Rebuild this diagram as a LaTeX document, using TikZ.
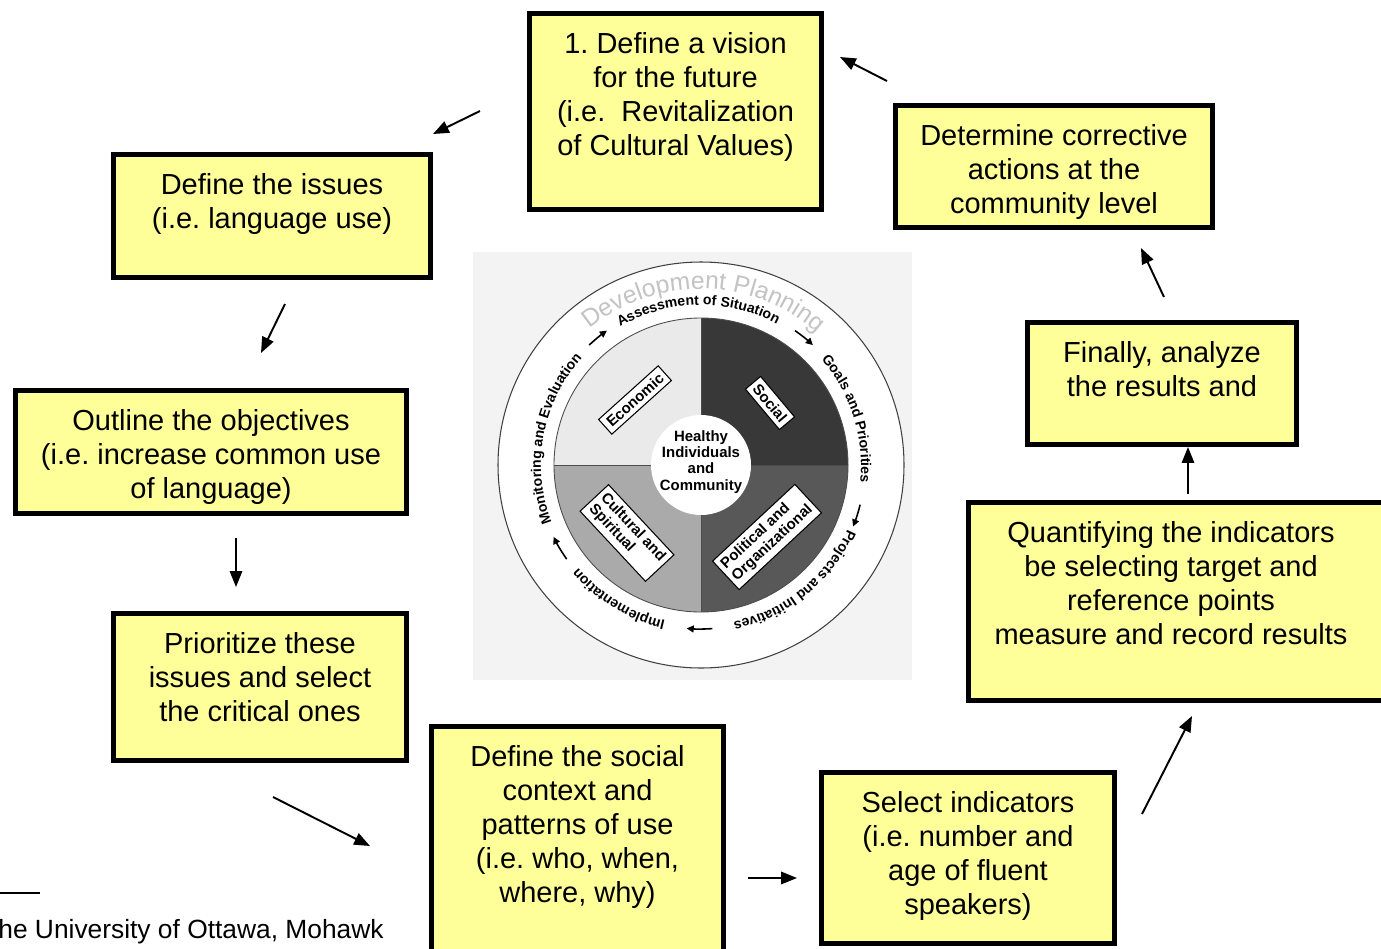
\documentclass[tikz,border=0pt]{standalone}
\usepackage{fontspec}
\setmainfont{Liberation Sans}
\usetikzlibrary{positioning,arrows.meta,decorations.text}
\frenchspacing

\definecolor{boxyellow}{RGB}{255,255,153}
\definecolor{scanbg}{RGB}{243,243,243}
\definecolor{econgray}{RGB}{234,234,234}
\definecolor{socialgray}{RGB}{56,56,56}
\definecolor{polgray}{RGB}{88,88,88}
\definecolor{culturegray}{RGB}{170,170,170}
\definecolor{titlegray}{RGB}{195,195,195}

\newcommand{\boxfont}{\fontsize{16.5}{19.4}\selectfont}
\newcommand{\ringfont}{\fontsize{8}{9}\selectfont\bfseries}
\newcommand{\sectorfont}{\fontsize{8.5}{9.2}\selectfont\bfseries}

\tikzset{
  stepbox/.style={draw, line width=2.8pt, fill=boxyellow},
  steptext/.style={align=center, font=\boxfont, anchor=north, yshift=-0.30cm},
  flow/.style={-{Triangle[length=9pt,width=7pt]}, line width=1.1pt},
  sector/.style={draw, fill=white, line width=0.6pt, font=\sectorfont, align=left, inner sep=2.5pt},
  ringarrow/.style={-{Triangle[length=4pt,width=4pt]}, line width=0.9pt},
}

\begin{document}
\begin{tikzpicture}
\useasboundingbox (0,0) rectangle (27.62,-18.96);

% the wheel in the middle
\fill [scanbg] (9.46,-5.04) rectangle (18.24,-13.60);
\coordinate (hub) at (14.02,-9.30);
\draw [draw=gray!50!black, fill=white, line width=0.6pt] (hub) circle (4.06);

\fill [econgray] (hub) -- ++(180:2.94) arc (180:90:2.94) -- cycle;
\fill [socialgray] (hub) -- ++(90:2.94) arc (90:0:2.94) -- cycle;
\fill [polgray] (hub) -- ++(0:2.94) arc (0:-90:2.94) -- cycle;
\fill [culturegray] (hub) -- ++(-90:2.94) arc (-90:-180:2.94) -- cycle;
\draw [line width=0.5pt, gray!60!black] (hub) circle (2.94);
\draw [line width=0.5pt, gray!60!black] ([xshift=-2.94cm]hub) -- ([xshift=2.94cm]hub);
\draw [line width=0.5pt, gray!60!black] ([yshift=2.94cm]hub) -- ([yshift=-2.94cm]hub);
\fill [white] (hub) circle (1.0);

\node (healthy) at ([yshift=0.06cm]hub) [align=center, font=\sectorfont] {Healthy\\Individuals\\and\\Community};

\node (econ) [sector, rotate=42] at (12.70,-8.00) {Economic};
\node (social) [sector, rotate=-50] at (15.40,-8.06) {Social};
\node (culture) [sector, rotate=-47] at (12.54,-10.66) {Cultural and\\Spiritual};
\node (polit) [sector, rotate=43] at (15.34,-10.74) {Political and\\Organizational};

\path [decorate, decoration={text along path, text align=center,
    text={|\fontsize{14}{16}\selectfont\color{titlegray}|Development Planning}}]
  (hub) ++(131:3.52) arc (131:47:3.52);
\path [decorate, decoration={text along path, text align=center, text={|\ringfont|Assessment of Situation}}]
  (hub) ++(123:3.2) arc (123:59:3.2);
\path [decorate, decoration={text along path, text align=center, text={|\ringfont|Goals and Priorities}}]
  (hub) ++(43:3.2) arc (43:-8:3.2);
\path [decorate, decoration={text along path, text align=center, text={|\ringfont|Projects and Initiatives}}]
  (hub) ++(-21:3.2) arc (-21:-81:3.2);
\path [decorate, decoration={text along path, text align=center, text={|\ringfont|Implementation}}]
  (hub) ++(-101:3.2) arc (-101:-142:3.2);
\path [decorate, decoration={text along path, text align=center, text={|\ringfont|Monitoring and Evaluation}}]
  (hub) ++(204:3.2) arc (204:135:3.2);

\draw [ringarrow] (hub) ++(55:3.28) arc (55:47:3.28);
\draw [ringarrow] (hub) ++(-14:3.28) arc (-14:-22:3.28);
\draw [ringarrow] (hub) ++(-86:3.28) arc (-86:-95:3.28);
\draw [ringarrow] (hub) ++(-145:3.28) arc (-145:-154:3.28);
\draw [ringarrow] (hub) ++(133:3.28) arc (133:125:3.28);

% the steps
\node (vision) at (13.51,-2.23) [stepbox, minimum width=5.84cm, minimum height=3.92cm] {};
\node (corr) at (21.08,-3.33) [stepbox, minimum width=6.34cm, minimum height=2.44cm] {};
\node (issues) at (5.44,-4.32) [stepbox, minimum width=6.34cm, minimum height=2.46cm] {};
\node (objectives) at (4.22,-9.04) [stepbox, minimum width=7.82cm, minimum height=2.46cm] {};
\node (prio) at (5.20,-13.74) [stepbox, minimum width=5.86cm, minimum height=2.94cm] {};
\node (context) at (11.55,-16.94) [stepbox, minimum width=5.84cm, minimum height=4.82cm] {};
\node (indic) at (19.36,-17.16) [stepbox, minimum width=5.86cm, minimum height=3.42cm] {};
\node (quant) at (23.61,-12.03) [stepbox, minimum width=8.48cm, minimum height=3.96cm] {};
\node (final) at (23.24,-7.67) [stepbox, minimum width=5.38cm, minimum height=2.44cm] {};

\node [steptext] at (vision.north) {1. Define a vision\\for the future\\(i.e.\ \ Revitalization\\of Cultural Values)};
\node [steptext] at (corr.north) {Determine corrective\\actions at the\\community level};
\node [steptext] at (issues.north) {Define the issues\\(i.e. language use)};
\node [steptext] at (objectives.north) {Outline the objectives\\(i.e. increase common use\\of language)};
\node [steptext] at (prio.north) {Prioritize these\\issues and select\\the critical ones};
\node [steptext] at (context.north) {Define the social\\context and\\patterns of use\\(i.e. who, when,\\where, why)};
\node [steptext] at (indic.north) {Select indicators\\(i.e. number and\\age of fluent\\speakers)};
\node [steptext, xshift=-0.19cm] at (quant.north) {Quantifying the indicators\\be selecting target and\\reference points\\measure and record results};
\node [steptext] at (final.north) {Finally, analyze\\the results and};

% free arrows between the steps
\node (fromcorr) [coordinate] at (17.74,-1.62) {};
\node (tovision) [coordinate] at (16.80,-1.14) {};
\node (fromvision) [coordinate] at (9.60,-2.22) {};
\node (toissues) [coordinate] at (8.66,-2.68) {};
\node (fromissues) [coordinate] at (5.70,-6.08) {};
\node (toobj) [coordinate] at (5.22,-7.06) {};
\node (fromobj) [coordinate] at (4.72,-10.76) {};
\node (toprio) [coordinate] at (4.72,-11.74) {};
\node (fromprio) [coordinate] at (5.46,-15.94) {};
\node (tocontext) [coordinate] at (7.40,-16.92) {};
\node (fromcontext) [coordinate] at (14.96,-17.56) {};
\node (toindic) [coordinate] at (15.94,-17.56) {};
\node (fromindic) [coordinate] at (22.84,-16.28) {};
\node (toquant) [coordinate] at (23.84,-14.32) {};
\node (fromquant) [coordinate] at (23.76,-9.88) {};
\node (tofinal) [coordinate] at (23.76,-8.94) {};
\node (fromfinal) [coordinate] at (23.28,-5.94) {};
\node (tocorr) [coordinate] at (22.82,-4.96) {};
\path [flow]
  (fromcorr) edge (tovision)
  (fromvision) edge (toissues)
  (fromissues) edge (toobj)
  (fromobj) edge (toprio)
  (fromprio) edge (tocontext)
  (fromcontext) edge (toindic)
  (fromindic) edge (toquant)
  (fromquant) edge (tofinal)
  (fromfinal) edge (tocorr)
;

% footnote at the bottom left
\node (rulestart) [coordinate] at (0,-17.86) {};
\node (ruleend) [coordinate] at (0.8,-17.86) {};
\draw [line width=0.8pt] (rulestart) -- (ruleend);
\node (credit) [anchor=base east, inner sep=0pt, font=\fontsize{15}{17}\selectfont] at (7.68,-18.76) {he University of Ottawa, Mohawk};
\end{tikzpicture}
\end{document}
